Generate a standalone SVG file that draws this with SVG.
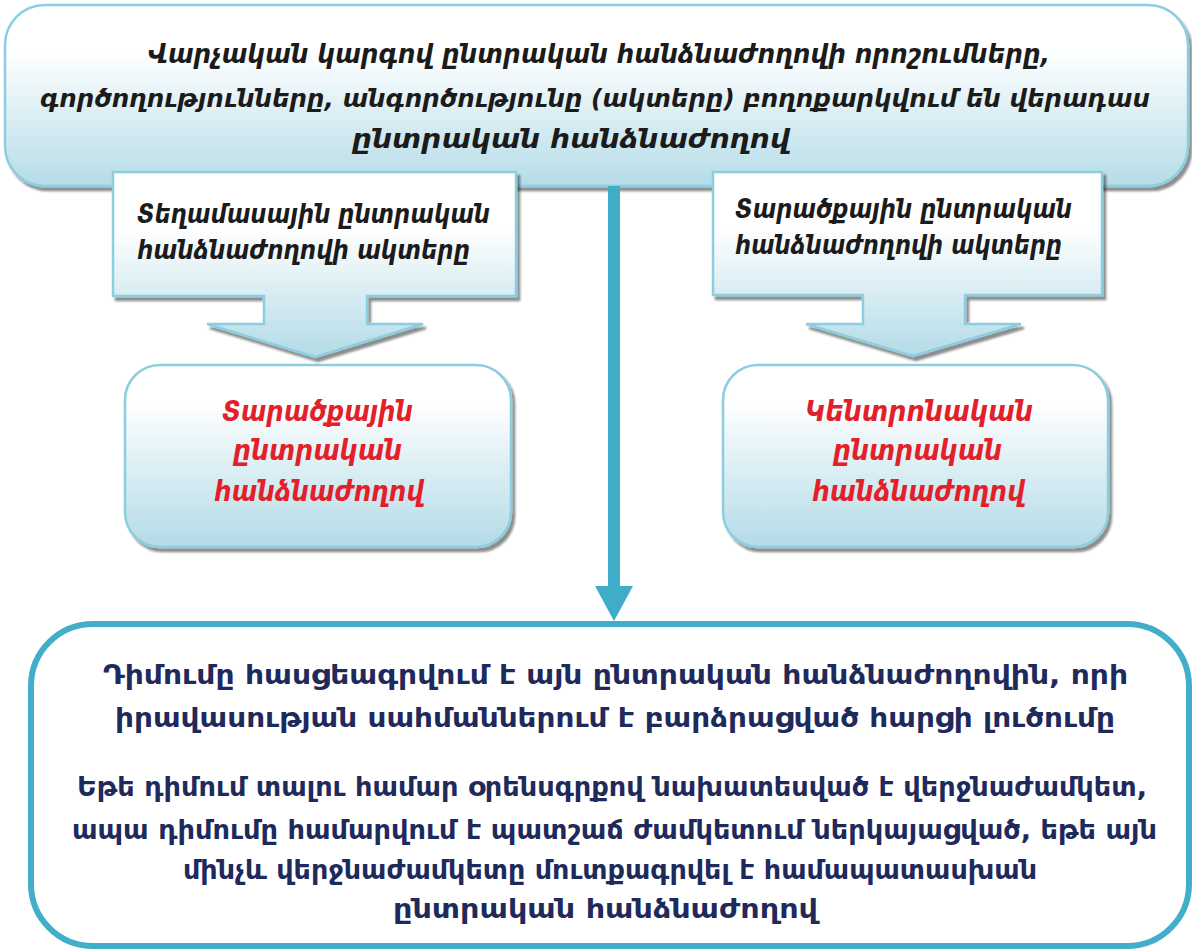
<svg xmlns="http://www.w3.org/2000/svg" width="1192" height="952" viewBox="0 0 1192 952">
<defs>
<linearGradient id="gTop" x1="0" y1="0" x2="0" y2="1">
<stop offset="0" stop-color="#ffffff"/>
<stop offset="0.25" stop-color="#ffffff"/>
<stop offset="1" stop-color="#b5dce8"/>
</linearGradient>
<linearGradient id="gCall" x1="0" y1="0" x2="0" y2="1">
<stop offset="0" stop-color="#ffffff"/>
<stop offset="0.3" stop-color="#ffffff"/>
<stop offset="1" stop-color="#b3dbe7"/>
</linearGradient>
<linearGradient id="gBox" x1="0" y1="0" x2="0" y2="1">
<stop offset="0" stop-color="#ffffff"/>
<stop offset="0.2" stop-color="#ffffff"/>
<stop offset="1" stop-color="#b3dbe7"/>
</linearGradient>
<filter id="sh" x="-5%" y="-5%" width="110%" height="115%">
<feGaussianBlur in="SourceAlpha" stdDeviation="1.2"/>
<feOffset dx="3" dy="4" result="o"/>
<feComponentTransfer><feFuncA type="linear" slope="0.45"/></feComponentTransfer>
<feMerge><feMergeNode/><feMergeNode in="SourceGraphic"/></feMerge>
</filter>
</defs>
<style>
.blue{stroke:#8ccddf;stroke-width:2.5}
.it{font-family:"DejaVu Sans","Noto Sans",sans-serif;font-weight:bold;font-style:italic}
.blk{fill:#1b1b1b;font-size:26px}
.blk2{fill:#1b1b1b;font-size:24.5px}
.cb{fill:#1b1b1b;font-size:26px}
.red{fill:#e3202a;font-size:29px}
.nav{font-family:"DejaVu Sans","Noto Sans",sans-serif;font-weight:bold;fill:#1f2a5c;font-size:27px}
</style>

<g id="top">
<rect x="5" y="5" width="1183" height="181" rx="40" fill="url(#gTop)" class="blue" filter="url(#sh)"/>
<text class="it blk" x="148" y="63" textLength="902" lengthAdjust="spacingAndGlyphs">Վարչական կարգով ընտրական հանձնաժողովի որոշումները,</text>
<text class="it blk2" x="40" y="107" textLength="1110" lengthAdjust="spacingAndGlyphs">գործողությունները, անգործությունը (ակտերը) բողոքարկվում են վերադաս</text>
<text class="it blk" x="352" y="148" textLength="438" lengthAdjust="spacingAndGlyphs">ընտրական հանձնաժողով</text>
</g>

<g id="connectors">
<rect x="608" y="186" width="12" height="402" fill="#40adc8"/>
<polygon points="595,586 633,586 614,621" fill="#40adc8"/>
</g>

<g id="callout-left">
<path d="M113,172 H516 V296 H367 V324 H423 L315,357 L207,324 H264 V296 H113 Z" fill="url(#gCall)" class="blue" filter="url(#sh)"/>
<text class="it cb" x="137" y="223" textLength="353" lengthAdjust="spacingAndGlyphs">Տեղամասային ընտրական</text>
<text class="it cb" x="137" y="259" textLength="333" lengthAdjust="spacingAndGlyphs">հանձնաժողովի ակտերը</text>
</g>

<g id="callout-right">
<path d="M713,172 H1102 V295 H965 V324 H1021 L913,356 L806,324 H863 V295 H713 Z" fill="url(#gCall)" class="blue" filter="url(#sh)"/>
<text class="it cb" x="735" y="218" textLength="337" lengthAdjust="spacingAndGlyphs">Տարածքային ընտրական</text>
<text class="it cb" x="735" y="254" textLength="327" lengthAdjust="spacingAndGlyphs">հանձնաժողովի ակտերը</text>
</g>

<g id="box-left">
<rect x="125" y="365" width="386" height="182" rx="35" fill="url(#gBox)" class="blue" filter="url(#sh)"/>
<text class="it red" x="222" y="421" textLength="191" lengthAdjust="spacingAndGlyphs">Տարածքային</text>
<text class="it red" x="233" y="460" textLength="169" lengthAdjust="spacingAndGlyphs">ընտրական</text>
<text class="it red" x="214" y="501" textLength="210" lengthAdjust="spacingAndGlyphs">հանձնաժողով</text>
</g>

<g id="box-right">
<rect x="723" y="365" width="385" height="182" rx="35" fill="url(#gBox)" class="blue" filter="url(#sh)"/>
<text class="it red" x="805" y="421" textLength="228" lengthAdjust="spacingAndGlyphs">Կենտրոնական</text>
<text class="it red" x="833" y="460" textLength="169" lengthAdjust="spacingAndGlyphs">ընտրական</text>
<text class="it red" x="812" y="501" textLength="213" lengthAdjust="spacingAndGlyphs">հանձնաժողով</text>
</g>

<g id="bottom">
<rect x="31" y="624" width="1158" height="322" rx="62" fill="#ffffff" stroke="#42aec9" stroke-width="6"/>
<text class="nav" x="103" y="684" textLength="1025" lengthAdjust="spacingAndGlyphs">Դիմումը հասցեագրվում է այն ընտրական հանձնաժողովին, որի</text>
<text class="nav" x="115" y="727" textLength="1000" lengthAdjust="spacingAndGlyphs">իրավասության սահմաններում է բարձրացված հարցի լուծումը</text>
<text class="nav" x="77" y="796" textLength="1070" lengthAdjust="spacingAndGlyphs">Եթե դիմում տալու համար օրենսգրքով նախատեսված է վերջնաժամկետ,</text>
<text class="nav" x="72" y="839" textLength="1085" lengthAdjust="spacingAndGlyphs">ապա դիմումը համարվում է պատշաճ ժամկետում ներկայացված, եթե այն</text>
<text class="nav" x="183" y="879" textLength="854" lengthAdjust="spacingAndGlyphs">մինչև վերջնաժամկետը մուտքագրվել է համապատասխան</text>
<text class="nav" x="393" y="918" textLength="425" lengthAdjust="spacingAndGlyphs">ընտրական  հանձնաժողով</text>
</g>
</svg>
